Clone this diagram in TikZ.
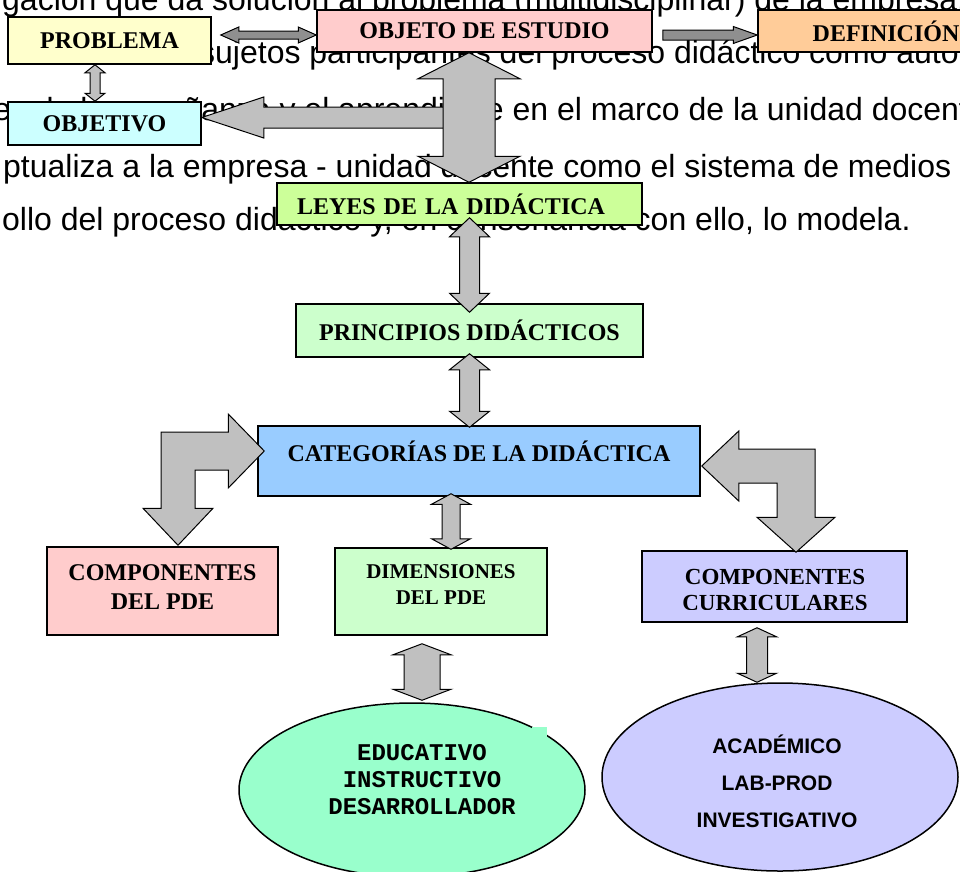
\documentclass[tikz,border=0pt]{standalone}
\usepackage{fontspec}
\setmainfont{Liberation Serif}
\newfontfamily\arialfont{Liberation Sans}
\newfontfamily\courierfont{Liberation Mono}
\usetikzlibrary{calc,shapes.geometric}

\definecolor{probyellow}{HTML}{FFFFCC}
\definecolor{objpink}{HTML}{FFCCCC}
\definecolor{deforange}{HTML}{FFCC99}
\definecolor{obvcyan}{HTML}{CCFFFF}
\definecolor{leygreen}{HTML}{CCFF99}
\definecolor{pringreen}{HTML}{CCFFCC}
\definecolor{catblue}{HTML}{99CCFF}
\definecolor{curlilac}{HTML}{CCCCFF}
\definecolor{edumint}{HTML}{99FFCC}
\definecolor{arrowgray}{HTML}{C0C0C0}
\definecolor{arrowdark}{HTML}{8F8F8F}

\tikzset{
  box/.style={draw, line width=1.5pt, inner sep=0pt, align=center,
    font=\bfseries\fontsize{24}{29}\selectfont},
  oval/.style={draw, line width=1.5pt, ellipse, inner sep=0pt},
  blockarrow/.style={draw, line width=1pt, fill=arrowgray},
  thinarrow/.style={draw, line width=1pt, fill=arrowdark},
  bodytext/.style={anchor=base west, inner sep=0pt,
    font=\arialfont\fontsize{32}{38}\selectfont}
}

% vertical double block arrow: top tip, bottom tip, shaft half, head half, head length
\newcommand{\vlink}[6][blockarrow]{%
  \path[#1] (#2) -- ($(#2)+(#5,#6)$) -- ($(#2)+(#4,#6)$)
    -- ($(#3)+(#4,-#6)$) -- ($(#3)+(#5,-#6)$) -- (#3)
    -- ($(#3)+(-#5,-#6)$) -- ($(#3)+(-#4,-#6)$)
    -- ($(#2)+(-#4,#6)$) -- ($(#2)+(-#5,#6)$) -- cycle;}
% horizontal double block arrow: left tip, right tip, shaft half, head half, head length
\newcommand{\hdlink}[6][blockarrow]{%
  \path[#1] (#2) -- ($(#2)+(#6,-#5)$) -- ($(#2)+(#6,-#4)$)
    -- ($(#3)+(-#6,-#4)$) -- ($(#3)+(-#6,-#5)$) -- (#3)
    -- ($(#3)+(-#6,#5)$) -- ($(#3)+(-#6,#4)$)
    -- ($(#2)+(#6,#4)$) -- ($(#2)+(#6,#5)$) -- cycle;}
% horizontal single block arrow: tail, tip, shaft half, head half, signed head length
\newcommand{\hslink}[6][blockarrow]{%
  \path[#1] ($(#2)+(0,-#4)$) -- ($(#3)+(#6,-#4)$) -- ($(#3)+(#6,-#5)$) -- (#3)
    -- ($(#3)+(#6,#5)$) -- ($(#3)+(#6,#4)$) -- ($(#2)+(0,#4)$) -- cycle;}

\begin{document}
\begin{tikzpicture}[x=1pt, y=-1pt]

\useasboundingbox (0,0) rectangle (960,871);
\clip (0,0) rectangle (960,871);

% text of the page behind the diagram
\node[bodytext] (txta) at (2,10) {gación que da solución al problema (multidisciplinar) de la empresa.};
\node[bodytext] (txtb) at (199,63) {sujetos participantes del proceso didáctico como autores};
\node[bodytext] (txtc) at (-7,120) {es de la enseñanza y el aprendizaje en el marco de la unidad docente};
\node[bodytext] (txtd) at (3,177) {ptualiza a la empresa - unidad docente como el sistema de medios};
\node[bodytext] (txte) at (2,230) {ollo del proceso didáctico y, en consonancia con ello, lo modela.};

% boxes
\node[box, fill=probyellow, minimum width=203pt, minimum height=47pt] (prob) at (109.5,40.5) {PROBLEMA};
\node[box, fill=objpink, minimum width=335pt, minimum height=42pt] (obj) at (484.5,31) {OBJETO DE ESTUDIO};
\node[box, fill=deforange, minimum width=256pt, minimum height=42pt] (def) at (886,31) {DEFINICIÓN};
\node[box, fill=obvcyan, minimum width=193pt, minimum height=43pt] (obv) at (104.5,123.5) {OBJETIVO};
\node[box, fill=leygreen, minimum width=365pt, minimum height=42pt, text width=325pt, align=left] (ley) at (459.5,204) {LEYES DE LA DIDÁCTICA};
\node[box, fill=pringreen, minimum width=347pt, minimum height=53pt] (prin) at (469.5,330.5) {PRINCIPIOS DIDÁCTICOS};
\node[box, fill=catblue, minimum width=442pt, minimum height=70pt, text depth=20pt] (cat) at (479,461) {CATEGORÍAS DE LA DIDÁCTICA};
\node[box, fill=objpink, minimum width=231pt, minimum height=88pt, text depth=7pt] (comp) at (162.5,591) {COMPONENTES\\DEL PDE};
\node[box, fill=pringreen, minimum width=212pt, minimum height=87pt, text depth=13pt,
  font=\bfseries\fontsize{21}{26}\selectfont] (dim) at (441,591.5) {DIMENSIONES\\DEL PDE};
\node[box, fill=curlilac, minimum width=265pt, minimum height=71pt] (cur) at (774.5,586.5) {};
\begin{scope}
\clip (642,551) rectangle (907,609);
\node[align=center, font=\bfseries\fontsize{23}{26}\selectfont] (curtext) at (775,590) {COMPONENTES\\CURRICULARES};
\end{scope}

% ellipses
\node[oval, fill=edumint, minimum width=346pt, minimum height=174pt] (edu) at (412,790) {};
\fill[edumint] (532,727) rectangle (547,742);
\node[align=center, font=\courierfont\bfseries\fontsize{24}{27}\selectfont] (edutext) at (422,780) {EDUCATIVO\\INSTRUCTIVO\\DESARROLLADOR};
\node[oval, fill=curlilac, minimum width=356pt, minimum height=188pt] (aca) at (780,777) {};
\node[align=center, font=\arialfont\bfseries\fontsize{21}{37}\selectfont] (acatext) at (777,781) {ACADÉMICO\\LAB-PROD\\INVESTIGATIVO};

% arrow ends
\coordinate (pa1) at ($(prob.south)+(-14.5,0)$);
\coordinate (pa2) at (pa1 |- obv.north);
\coordinate (pb1) at ($(prob.east)+(9,-5.5)$);
\coordinate (pb2) at (pb1 -| obj.west);
\coordinate (oc1) at ($(obj.east)+(10,4)$);
\coordinate (oc2) at (oc1 -| def.west);
\coordinate (oe1) at ($(obj.south)+(-15.5,0)$);
\coordinate (oe2) at (oe1 |- ley.north);
\coordinate (od2) at ($(obv.east)+(0,-6)$);
\coordinate (od1) at (od2 -| oe1);
\coordinate (lf1) at ($(prin.north |- ley.south)+(0,-8)$);
\coordinate (lf2) at ($(prin.north)+(0,9)$);
\coordinate (pg1) at ($(prin.south)+(0,-4)$);
\coordinate (pg2) at ($(prin.south |- cat.north)+(0,2)$);
\coordinate (ch1) at ($(dim.north |- cat.south)+(10,-3)$);
\coordinate (ch2) at ($(dim.north)+(10,2)$);
\coordinate (di1) at ($(dim.south)+(-19,8)$);
\coordinate (di2) at ($(di1 |- edu.north)+(0,-2)$);
\coordinate (cj1) at ($(cur.south)+(-17.5,5)$);
\coordinate (cj2) at (cj1 |- aca.north);
\coordinate (bk1) at ($(cat.west)+(7,-10)$);
\coordinate (bk2) at ($(comp.north)+(15.5,-1)$);
\coordinate (bm1) at ($(cat.east)+(1,5)$);
\coordinate (bm2) at ($(cur.north)+(21.5,2)$);

% arrows
\vlink{pa1}{pa2}{5}{10}{8}
\hdlink[thinarrow]{pb1}{pb2}{4}{8}{18}
\hslink[thinarrow]{oc1}{oc2}{5}{8.5}{-24}
\hslink{od1}{od2}{10.5}{20.5}{62}
\vlink{oe1}{oe2}{26}{51}{26}
\vlink{lf1}{lf2}{10}{20}{19}
\vlink{pg1}{pg2}{10}{20}{16}
\vlink{ch1}{ch2}{9}{19.5}{10.5}
\vlink{di1}{di2}{18}{29}{11}
\vlink{cj1}{cj2}{10.5}{19.5}{9}

\path[blockarrow] (bk1) -- ++(-36,-37) -- ++(0,18) -| ($(bk2)+(-17,-37)$) -- ++(-18,0) -- (bk2)
  -- ++(35,-37) -- ++(-18,0) |- ($(bk1)+(-36,19)$) -- ++(0,18) -- cycle;
\path[blockarrow] (bm1) -- ++(37,-35) -- ++(0,18) -| ($(bm2)+(19,-35)$) -- ++(20,0) -- (bm2)
  -- ++(-39,-35) -- ++(20,0) |- ($(bm1)+(37,17)$) -- ++(0,18) -- cycle;

\end{tikzpicture}
\end{document}
